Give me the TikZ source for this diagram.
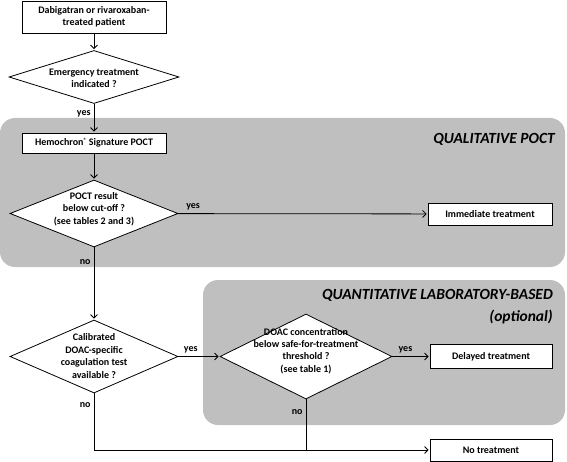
\documentclass[tikz,border=0pt]{standalone}
\usepackage{fontspec}
\setmainfont{Carlito}
\usetikzlibrary{positioning, shapes.geometric, arrows.meta, calc}

\begin{document}
\begin{tikzpicture}[
        x=1pt, y=-1pt,
        font=\fontsize{10}{12.4}\selectfont\bfseries,
        box/.style={rectangle, draw, fill=white, align=center, line width=0.8pt, inner sep=1pt},
        decision/.style={diamond, draw, fill=white, line width=0.8pt, inner sep=0pt},
        dtext/.style={align=center, inner sep=0pt},
        region/.style={fill=black!25, rounded corners=15pt},
        title/.style={font=\fontsize{15.5}{22}\selectfont\bfseries\itshape, align=right, inner sep=0pt},
        lbl/.style={inner sep=3pt},
        arrow/.style={-{Straight Barb[length=3.5pt, width=7pt]}, line width=0.8pt, shorten >=1pt},
        line/.style={line width=0.8pt}
    ]
    \useasboundingbox (0,0) rectangle (567,462);

    % Background regions
    \fill[region] (0,118) rectangle (565,267);
    \fill[region] (203,280) rectangle (565,425);
    \node[title, anchor=east] (qualtitle) at (555,139) {QUALITATIVE POCT};
    \node[title, anchor=north east] (quanttitle) at (553,289) {QUANTITATIVE LABORATORY-BASED\\(optional)};

    % Top: patient and emergency check
    \node[box, minimum width=144pt, minimum height=32pt] (patient) at (94,17) {Dabigatran or rivaroxaban-\\treated patient};
    \node[decision, minimum width=170pt, minimum height=53pt] (emerg) at (94,77) {};
    \node[dtext] (emerg-t) at (94,78) {Emergency treatment\\indicated ?};

    % Qualitative POCT
    \node[box, minimum width=144pt, minimum height=20pt] (hemo) at (94,143) {Hemochron\raisebox{0.7ex}{\fontsize{6}{6}\selectfont ®} Signature POCT};
    \node[decision, minimum width=168pt, minimum height=67pt] (poct) at (94,213.5) {};
    \node[dtext] (poct-t) at (94,209) {POCT result\\below cut-off ?\\(see tables 2 and 3)};
    \node[box, minimum width=124pt, minimum height=22pt] (immed) at (490,214) {Immediate treatment};

    % Laboratory tests
    \node[decision, minimum width=168pt, minimum height=73pt] (calib) at (94,356.5) {};
    \node[dtext] (calib-t) at (94,356) {Calibrated\\DOAC-specific\\coagulation test\\available ?};
    \node[decision, minimum width=172pt, minimum height=85pt] (conc) at (306,356.5) {};
    \node[dtext] (conc-t) at (306,351) {DOAC concentration\\below safe-for-treatment\\threshold ?\\(see table 1)};
    \node[box, minimum width=122pt, minimum height=24pt] (delayed) at (491,356.5) {Delayed treatment};
    \node[box, minimum width=122pt, minimum height=22pt] (notreat) at (491,450) {No treatment};
    \coordinate (join) at (conc.south |- notreat.west);

    % Arrows
    \draw[arrow] (patient) -- (emerg);
    \draw[arrow] (emerg) -- node[lbl, left, pos=0.35] {yes} (hemo);
    \draw[arrow] (hemo) -- (poct);
    \draw[arrow] (poct) -- node[lbl, above, pos=0.06] {yes} (immed);
    \draw[arrow] (poct) -- node[lbl, left, pos=0.2] {no} (calib);
    \draw[arrow] (calib) -- node[lbl, above, pos=0.3] {yes} (conc);
    \draw[arrow] (conc) -- node[lbl, above, pos=0.35] {yes} (delayed);
    \draw[arrow] (calib) |- node[lbl, left, pos=0.1] {no} (notreat);
    \draw[line] (conc) -- node[lbl, left, pos=0.25] {no} (join);

\end{tikzpicture}
\end{document}
